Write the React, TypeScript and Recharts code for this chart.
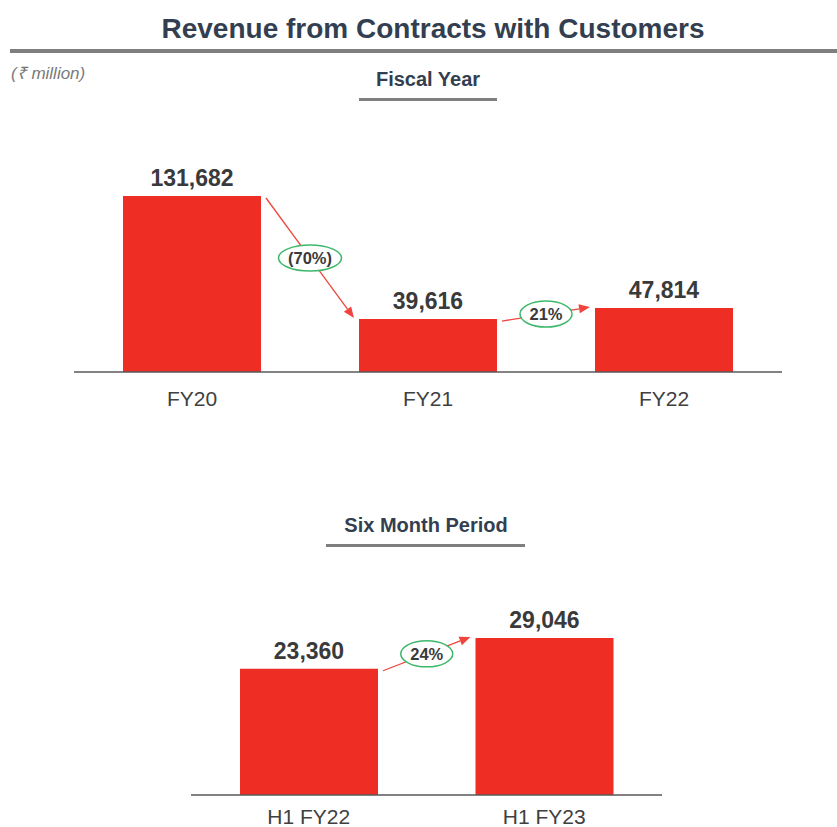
import { Bar, BarChart, LabelList, XAxis, YAxis } from "recharts";

const fyCategories = ["FY20", "FY21", "FY22"];
const fyValues = [131682, 39616, 47814];
const fyGrowth = ["(70%)", "21%"];

const h1Categories = ["H1 FY22", "H1 FY23"];
const h1Values = [23360, 29046];
const h1Growth = ["24%"];

const fyData = fyCategories.map((name, i) => ({ name, value: fyValues[i] }));
const h1Data = h1Categories.map((name, i) => ({ name, value: h1Values[i] }));

const BAR_RED = "#EE2E24";
const ARROW_RED = "#F0453D";
const GREEN = "#3DB86A";
const SLATE = "#333F50";
const TEXT = "#3A3A3A";
const FONT = "'Liberation Sans', Arial, sans-serif";

const charW = (c: string) =>
  c === "%" ? 0.889 : c === "(" || c === ")" ? 0.333 : 0.556;
const textWidth = (s: string, size: number) =>
  s.split("").reduce((sum, c) => sum + charW(c), 0) * size;

// label for each bar: value on top, plus growth arrow to the next bar
const makeBarLabel =
  (values: number[], growth: string[], step: number) => (props: any) => {
    const box = props.viewBox ?? props;
    const { x, y, width, height } = box;
    const index: number = props.index ?? 0;
    const value = values[index];
    const cx = x + width / 2;
    const next = values[index + 1];
    let connector = null;
    if (next !== undefined && growth[index]) {
      const base = y + height;
      const nextTop = base - (height * next) / value;
      const x1 = x + width + 5;
      const y1 = y + 2;
      const x2 = x + step - 5;
      const y2 = nextTop - 1;
      const ang = Math.atan2(y2 - y1, x2 - x1);
      const len = 11;
      const hw = 4.5;
      const bx = x2 - len * Math.cos(ang);
      const by = y2 - len * Math.sin(ang);
      const px = -Math.sin(ang) * hw;
      const py = Math.cos(ang) * hw;
      const mx = (x1 + x2) / 2;
      const my = (y1 + y2) / 2;
      const label = growth[index];
      const rx = textWidth(label, 16.5) / 2 + 9.5;
      connector = (
        <g>
          <line x1={x1} y1={y1} x2={bx} y2={by} stroke={ARROW_RED} strokeWidth={1.3} />
          <polygon
            points={`${x2},${y2} ${bx + px},${by + py} ${bx - px},${by - py}`}
            fill={ARROW_RED}
          />
          <ellipse cx={mx} cy={my} rx={rx} ry={13} fill="#fff" stroke={GREEN} strokeWidth={1.5} />
          <text
            x={mx}
            y={my + 6}
            textAnchor="middle"
            fontFamily={FONT}
            fontWeight={700}
            fontSize={16.5}
            fill={TEXT}
          >
            {label}
          </text>
        </g>
      );
    }
    return (
      <g>
        <text
          x={cx}
          y={y - 10}
          textAnchor="middle"
          fontFamily={FONT}
          fontWeight={700}
          fontSize={23}
          fill={TEXT}
        >
          {value.toLocaleString("en-US")}
        </text>
        {connector}
      </g>
    );
  };

const centered = (cx: number, top: number): React.CSSProperties => ({
  position: "absolute",
  left: cx,
  top,
  transform: "translateX(-50%)",
  whiteSpace: "nowrap",
  lineHeight: 1,
});

const FY_W = 837;
const FY_H = 430;
const FY_MARGIN = { top: 196, right: 55, left: 74, bottom: 28 };
const H1_W = 837;
const H1_H = 360;
const H1_MARGIN = { top: 138, right: 175, left: 191, bottom: 35 };

export default function App() {
  const fyStep = (FY_W - FY_MARGIN.left - FY_MARGIN.right) / fyData.length;
  const h1Step = (H1_W - H1_MARGIN.left - H1_MARGIN.right) / h1Data.length;

  return (
    <div
      style={{
        position: "absolute",
        left: 0,
        top: 0,
        width: 837,
        height: 827,
        overflow: "hidden",
        background: "#fff",
        fontFamily: FONT,
      }}
    >
      <div style={{ position: "absolute", left: 0, top: 0 }}>
        <BarChart width={FY_W} height={FY_H} data={fyData} margin={FY_MARGIN}>
          <YAxis hide domain={[0, "dataMax"]} />
          <XAxis
            dataKey="name"
            height={30}
            axisLine={{ stroke: "#595959", strokeWidth: 1.5 }}
            tickLine={false}
            tickSize={0}
            tickMargin={19}
            tick={{ fill: "#404040", fontSize: 21, fontFamily: FONT }}
          />
          <Bar dataKey="value" fill={BAR_RED} barSize={138} isAnimationActive={false}>
            <LabelList content={makeBarLabel(fyValues, fyGrowth, fyStep)} />
          </Bar>
        </BarChart>
      </div>

      <div style={{ position: "absolute", left: 0, top: 500 }}>
        <BarChart width={H1_W} height={H1_H} data={h1Data} margin={H1_MARGIN}>
          <YAxis hide domain={[0, "dataMax"]} />
          <XAxis
            dataKey="name"
            height={30}
            axisLine={{ stroke: "#595959", strokeWidth: 1.5 }}
            tickLine={false}
            tickSize={0}
            tickMargin={14}
            tick={{ fill: "#404040", fontSize: 21, fontFamily: FONT }}
          />
          <Bar dataKey="value" fill={BAR_RED} barSize={138} isAnimationActive={false}>
            <LabelList content={makeBarLabel(h1Values, h1Growth, h1Step)} />
          </Bar>
        </BarChart>
      </div>

      <div style={{ ...centered(433, 15), fontSize: 28, fontWeight: 700, color: SLATE }}>
        Revenue from Contracts with Customers
      </div>
      <div
        style={{ position: "absolute", left: 10, top: 49, width: 827, height: 4, background: "#7F7F7F" }}
      />
      <div
        style={{
          position: "absolute",
          left: 11,
          top: 65,
          fontSize: 17,
          fontStyle: "italic",
          color: "#7A7A7A",
          lineHeight: 1,
          whiteSpace: "nowrap",
        }}
      >
        (₹ million)
      </div>
      <div style={{ ...centered(428, 69), fontSize: 20, fontWeight: 700, color: SLATE }}>
        Fiscal Year
      </div>
      <div
        style={{ position: "absolute", left: 359, top: 98, width: 138, height: 3, background: "#7F7F7F" }}
      />
      <div style={{ ...centered(426, 515), fontSize: 20, fontWeight: 700, color: SLATE }}>
        Six Month Period
      </div>
      <div
        style={{ position: "absolute", left: 326, top: 544, width: 199, height: 3, background: "#7F7F7F" }}
      />
    </div>
  );
}
